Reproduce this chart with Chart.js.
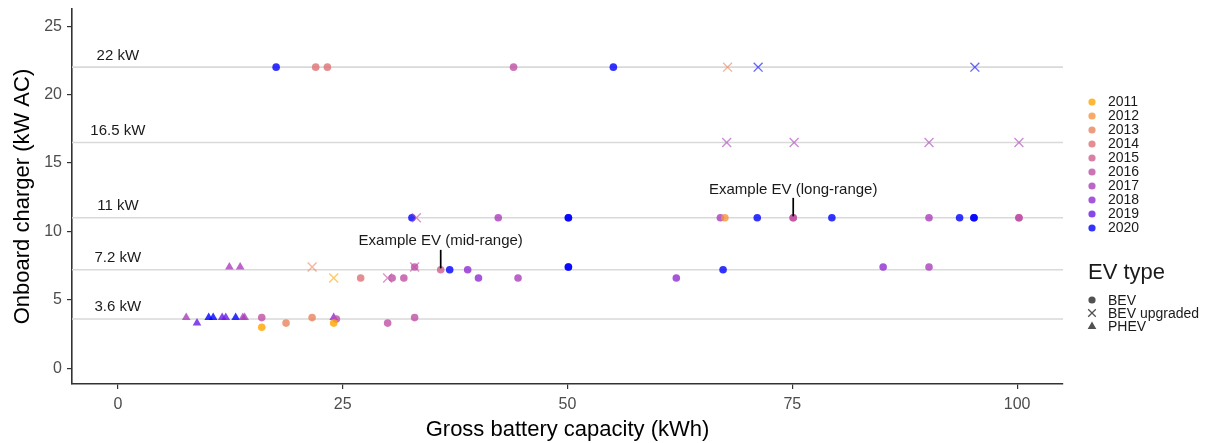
<!DOCTYPE html>
<html><head><meta charset="utf-8">
<script src="https://cdn.jsdelivr.net/npm/chart.js@4/dist/chart.umd.min.js"></script>
<style>
html,body{margin:0;padding:0;background:#fff;}
#wrap{position:relative;width:1209px;height:443px;font-family:"Liberation Sans",Arial,sans-serif;overflow:hidden;}
#c{position:absolute;left:0;top:0;}
.lg{position:absolute;white-space:nowrap;color:#1a1a1a;}
.sym{position:absolute;}
</style></head><body>
<div id="wrap"><canvas id="c" width="1209" height="443"></canvas><div id="legend"></div></div>
<script>
// ---------------- DATA ----------------
const years = [2011, 2012, 2013, 2014, 2015, 2016, 2017, 2018, 2019, 2020];
const xTicks = [0, 25, 50, 75, 100];
const yTicks = [0, 5, 10, 15, 20, 25];
const refLines = [3.6, 7.2, 11, 16.5, 22];
const refLabels = ['3.6 kW', '7.2 kW', '11 kW', '16.5 kW', '22 kW'];

// BEV (circles)
const bevCapacity = [17.6, 22.0, 23.3, 44.0, 55.1,
  32.7, 42.3, 50.1, 50.1, 67.0, 67.5, 71.1, 75.1, 75.1, 79.4, 90.2, 93.6, 95.2, 95.2, 100.2, 100.2,
  33.0, 35.9, 36.9, 38.9, 50.1, 50.1, 67.3, 85.1, 90.2,
  27.0, 30.5, 31.8, 40.1, 44.5, 62.1,
  16.0, 16.0, 18.7, 21.6, 24.3, 24.0, 30.0, 33.0];
const bevCharger = [22, 22, 22, 22, 22,
  11, 11, 11, 11, 11, 11, 11, 11, 11, 11, 11, 11, 11, 11, 11, 11,
  7.4, 7.2, 7.2, 7.2, 7.4, 7.4, 7.2, 7.4, 7.4,
  6.6, 6.6, 6.6, 6.6, 6.6, 6.6,
  3.7, 3.0, 3.3, 3.7, 3.6, 3.3, 3.3, 3.7];
const bevYear = [2020, 2014, 2014, 2016, 2020,
  2020, 2017, 2020, 2020, 2017, 2012, 2020, 2015, 2016, 2020, 2017, 2020, 2020, 2020, 2016, 2016,
  2016, 2015, 2020, 2018, 2020, 2020, 2020, 2018, 2017,
  2014, 2016, 2016, 2018, 2017, 2018,
  2016, 2011, 2013, 2013, 2016, 2011, 2016, 2016];

// BEV upgraded (crosses)
const upCapacity = [67.8, 71.2, 95.3, 67.7, 75.2, 90.2, 100.2, 33.2, 21.6, 33.0, 24.0, 30.0];
const upCharger  = [22, 22, 22, 16.5, 16.5, 16.5, 16.5, 11, 7.4, 7.4, 6.6, 6.6];
const upYear     = [2013, 2020, 2020, 2017, 2017, 2017, 2017, 2016, 2013, 2016, 2011, 2016];

// PHEV (triangles)
const phevCapacity = [12.4, 13.6, 7.6, 8.8, 10.1, 10.6, 11.6, 12.0, 13.1, 13.9, 14.1, 24.0];
const phevCharger  = [7.4, 7.4, 3.7, 3.3, 3.7, 3.7, 3.7, 3.7, 3.7, 3.7, 3.7, 3.7];
const phevYear     = [2017, 2017, 2017, 2019, 2020, 2020, 2019, 2019, 2020, 2017, 2017, 2018];

// Annotations
const annoLabels = ['Example EV (mid-range)', 'Example EV (long-range)'];
const annoCapacity = [35.9, 75.1];
const annoTextY = [9.3, 13.05];
const annoSegFrom = [7.3, 11.1];
const annoSegTo = [8.65, 12.45];

const typeLabels = ['BEV', 'BEV upgraded', 'PHEV'];

// ---------------- COLOURS (Lab gradient orange -> blue) ----------------
function toLab(hex){
  const c=[1,3,5].map(i=>parseInt(hex.slice(i,i+2),16)/255).map(v=>v<=0.04045?v/12.92:Math.pow((v+0.055)/1.055,2.4));
  const [R,G,B]=c;
  const X=(0.4124564*R+0.3575761*G+0.1804375*B)/0.95047;
  const Y=(0.2126729*R+0.7151522*G+0.0721750*B);
  const Z=(0.0193339*R+0.1191920*G+0.9503041*B)/1.08883;
  const f=t=>t>216/24389?Math.cbrt(t):(24389/27*t+16)/116;
  return [116*f(Y)-16,500*(f(X)-f(Y)),200*(f(Y)-f(Z))];
}
function fromLab(L,a,b){
  const fy=(L+16)/116, fx=fy+a/500, fz=fy-b/200;
  const finv=t=>t*t*t>216/24389?t*t*t:(116*t-16)/(24389/27);
  const X=finv(fx)*0.95047, Y=(L>8?fy*fy*fy:L/(24389/27)), Z=finv(fz)*1.08883;
  let R=3.2404542*X-1.5371385*Y-0.4985314*Z;
  let G=-0.9692660*X+1.8760108*Y+0.0415560*Z;
  let B=0.0556434*X-0.2040259*Y+1.0572252*Z;
  const g=v=>{v=v<=0.0031308?12.92*v:1.055*Math.pow(v,1/2.4)-0.055;return Math.round(Math.max(0,Math.min(1,v))*255);};
  return [g(R),g(G),g(B)];
}
const lowLab=toLab('#FFA500'), highLab=toLab('#0000FF');
const ALPHA=0.8;
function yearColor(yr,alpha){
  const t=(yr-years[0])/(years[years.length-1]-years[0]);
  const L=lowLab[0]+(highLab[0]-lowLab[0])*t, a=lowLab[1]+(highLab[1]-lowLab[1])*t, b=lowLab[2]+(highLab[2]-lowLab[2])*t;
  const [r,g,bb]=fromLab(L,a,b);
  return `rgba(${r},${g},${bb},${alpha})`;
}

// ---------------- CHART ----------------
const X_MIN=-5.1, X_MAX=105.1, Y_MIN=-1.15, Y_MAX=26.25;
const FONT='"Liberation Sans", Arial, sans-serif';
Chart.defaults.font.family=FONT;

const pts=(xs,ys)=>xs.map((x,i)=>({x:x,y:ys[i]}));
const datasets=[];
refLines.forEach(v=>{
  datasets.push({type:'scatter',data:[{x:X_MIN,y:v},{x:X_MAX,y:v}],showLine:true,borderColor:'#D9D9D9',borderWidth:1.6,pointRadius:0,order:20});
});
annoCapacity.forEach((x,i)=>{
  datasets.push({type:'scatter',data:[{x:x,y:annoSegFrom[i]},{x:x,y:annoSegTo[i]}],showLine:true,borderColor:'#000',borderWidth:1.7,pointRadius:0,order:1});
});
datasets.push({label:'PHEV',data:pts(phevCapacity,phevCharger),pointStyle:'triangle',pointRadius:5,
  backgroundColor:phevYear.map(y=>yearColor(y,ALPHA)),borderColor:phevYear.map(y=>yearColor(y,ALPHA)),borderWidth:0,order:4});
datasets.push({label:'BEV',data:pts(bevCapacity,bevCharger),pointStyle:'circle',pointRadius:3.8,
  backgroundColor:bevYear.map(y=>yearColor(y,ALPHA)),borderColor:bevYear.map(y=>yearColor(y,ALPHA)),borderWidth:0,order:3});
datasets.push({label:'BEV upgraded',data:pts(upCapacity,upCharger),pointStyle:'crossRot',pointRadius:6.3,
  backgroundColor:upYear.map(y=>yearColor(y,0.6)),borderColor:upYear.map(y=>yearColor(y,0.6)),borderWidth:1.4,order:2});

const textPlugin={id:'txt',afterDatasetsDraw(chart){
  const {ctx,scales:{x,y}}=chart;
  ctx.save();
  ctx.fillStyle='#1a1a1a';ctx.textAlign='center';ctx.textBaseline='middle';
  ctx.font='15px '+FONT;
  refLines.forEach((v,i)=>ctx.fillText(refLabels[i],x.getPixelForValue(0),y.getPixelForValue(v+0.85)));
  annoLabels.forEach((t,i)=>ctx.fillText(t,x.getPixelForValue(annoCapacity[i]),y.getPixelForValue(annoTextY[i])));
  ctx.restore();
}};

new Chart(document.getElementById('c'),{
  type:'scatter',
  data:{datasets},
  options:{
    responsive:false,animation:false,devicePixelRatio:1,
    layout:{padding:{left:0,top:9,right:146,bottom:0}},
    plugins:{legend:{display:false},tooltip:{enabled:false}},
    scales:{
      x:{type:'linear',min:X_MIN,max:X_MAX,
        afterBuildTicks:s=>{s.ticks=xTicks.map(v=>({value:v}));},
        afterFit:s=>{s.height=59;s.paddingLeft=0;s.paddingRight=0;},
        ticks:{color:'#4D4D4D',font:{size:16},padding:6},
        grid:{drawOnChartArea:false,drawTicks:true,tickLength:5,color:'#333',lineWidth:1.2},
        border:{display:true,color:'#333',width:1.6},
        title:{display:true,text:'Gross battery capacity (kWh)',color:'#000',font:{size:22},padding:{top:0,bottom:0}}},
      y:{type:'linear',min:Y_MIN,max:Y_MAX,
        afterBuildTicks:s=>{s.ticks=yTicks.map(v=>({value:v}));},
        afterFit:s=>{s.width=72;s.paddingTop=0;s.paddingBottom=0;},
        ticks:{color:'#4D4D4D',font:{size:16},padding:5},
        grid:{drawOnChartArea:false,drawTicks:true,tickLength:5,color:'#333',lineWidth:1.2},
        border:{display:true,color:'#333',width:1.6},
        title:{display:true,text:'Onboard charger (kW AC)',color:'#000',font:{size:22},padding:{top:10,bottom:0}}}
    }
  },
  plugins:[textPlugin]
});

// ---------------- LEGEND (HTML) ----------------
const leg=document.getElementById('legend');
function addText(txt,left,cy,size){
  const d=document.createElement('div');d.className='lg';d.textContent=txt;
  d.style.left=left+'px';d.style.top=(cy-size*0.6)+'px';d.style.fontSize=size+'px';d.style.lineHeight=(size*1.2)+'px';
  leg.appendChild(d);
}
function addSym(kind,cx,cy,color){
  const ns='http://www.w3.org/2000/svg';
  const s=document.createElementNS(ns,'svg');s.setAttribute('class','sym');s.setAttribute('width','14');s.setAttribute('height','14');
  s.style.left=(cx-7)+'px';s.style.top=(cy-7)+'px';
  let el;
  if(kind==='circle'){el=document.createElementNS(ns,'circle');el.setAttribute('cx','7');el.setAttribute('cy','7');el.setAttribute('r','3.6');el.setAttribute('fill',color);}
  else if(kind==='cross'){el=document.createElementNS(ns,'path');el.setAttribute('d','M3.2 3.2L10.8 10.8M10.8 3.2L3.2 10.8');el.setAttribute('stroke',color);el.setAttribute('stroke-width','1.3');el.setAttribute('fill','none');}
  else {el=document.createElementNS(ns,'path');el.setAttribute('d','M7 2.4L11.3 9.9L2.7 9.9Z');el.setAttribute('fill',color);}
  s.appendChild(el);leg.appendChild(s);
}
years.forEach((yr,i)=>{
  const cy=101.7+14*i;
  addSym('circle',1092,cy,yearColor(yr,ALPHA));
  addText(String(yr),1108,cy,14);
});
addText('EV type',1088,271.7,22);
['circle','cross','triangle'].forEach((k,i)=>{
  const cy=300+13.2*i;
  addSym(k,1092,cy,'rgba(51,51,51,0.85)');
  addText(typeLabels[i],1108,cy,14);
});
</script>
</body></html>
